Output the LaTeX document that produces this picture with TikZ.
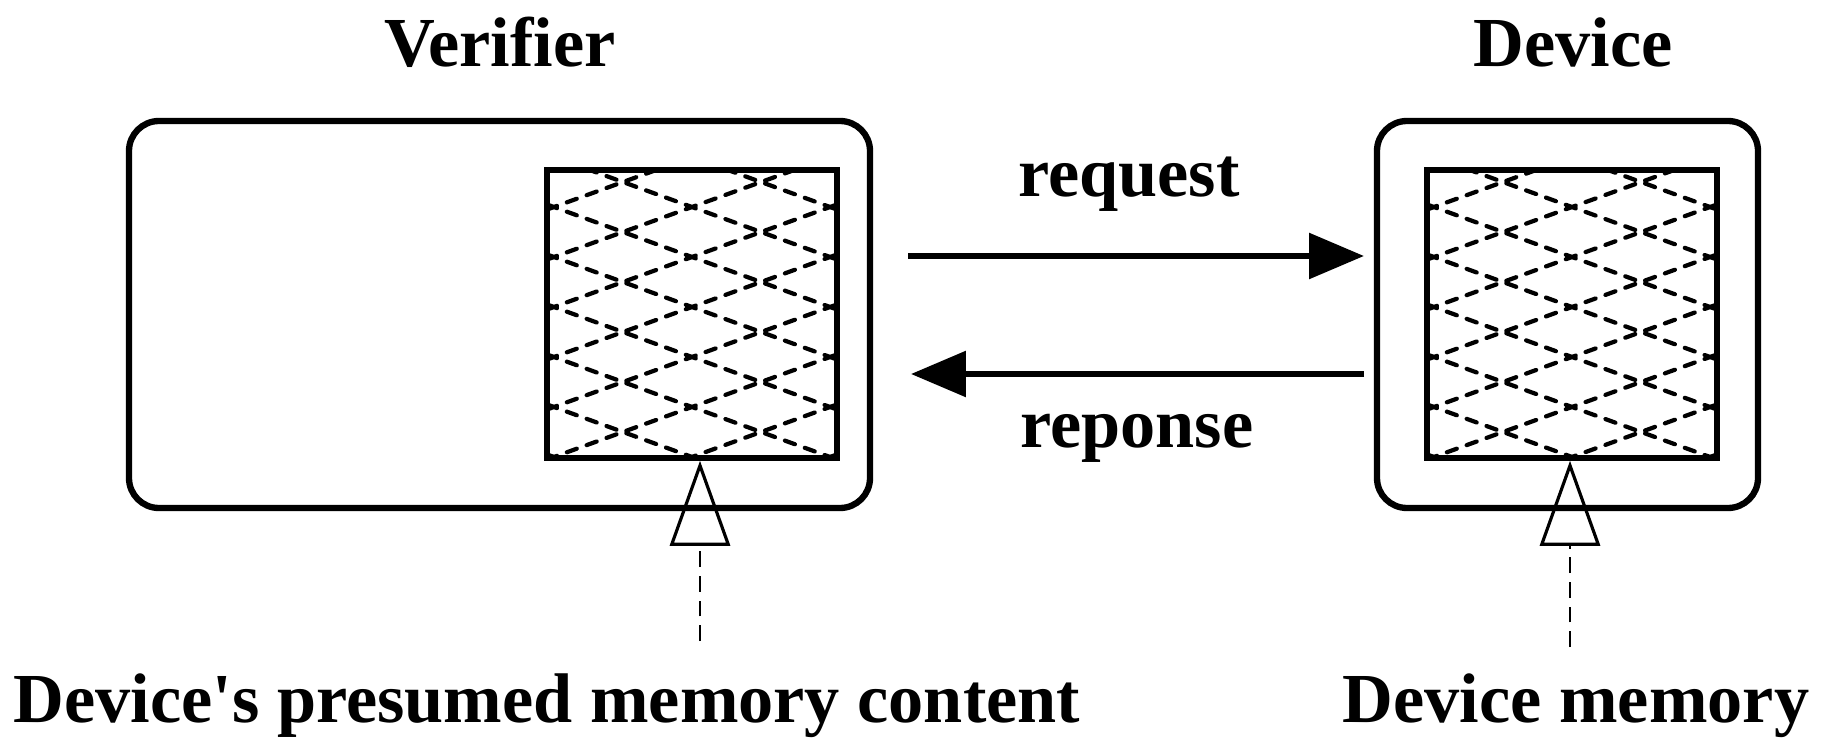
\documentclass[tikz,border=0pt]{standalone}
\usepackage{fontspec}
\setmainfont{Liberation Serif}
\usetikzlibrary{arrows.meta,positioning}
\tikzstyle{box}=[draw, line width=3.6pt, rounded corners=0.6cm]
\tikzstyle{hatch}=[line width=2.4pt, line cap=round, dash pattern=on 6pt off 6pt]
\tikzstyle{mem}=[draw, line width=3.2pt, minimum width=5.8cm, minimum height=5.76cm,
    path picture={
      \foreach \k in {-3,...,8}{
        \draw[hatch] ([yshift=-\k cm-0.69cm]path picture bounding box.north west)
          -- +(5.8cm,-2.1cm);
        \draw[hatch] ([yshift=-\k cm-0.79cm]path picture bounding box.north west)
          -- +(5.8cm,2.1cm);
      }}]
\tikzstyle{lbl}=[font=\bfseries\fontsize{40}{42}\selectfont]
\tikzstyle{hollow}=[-{Triangle[open, length=1.7cm, width=1.2cm, line width=1.8pt]},
    line width=1.4pt, dash pattern=on 9pt off 5pt]

\begin{document}
\begin{tikzpicture}[x=0.02cm, y=-0.02cm]
	\useasboundingbox (0,0) rectangle (1843,753);

	% verifier side
	\draw[box] (129,121) rectangle (870,508);
	\node (vmem) [mem] at (692,314) {};
	\node (vtitle) [lbl] at (500,42) {Verifier};

	% device side
	\draw[box] (1377,121) rectangle (1758,508);
	\node (dmem) [mem] at (1572,314) {};
	\node (dtitle) [lbl] at (1573,42) {Device};

	% messages
	\coordinate (rq1) at (908,256);
	\coordinate (rq2) at (1364,256);
	\coordinate (rp1) at (1364,374);
	\coordinate (rp2) at (911,374);
	\draw[-{Triangle[length=1.1cm, width=0.9cm]}, line width=3.4pt] (rq1) -- (rq2);
	\draw[-{Triangle[length=1.1cm, width=0.9cm]}, line width=3.4pt] (rp1) -- (rp2);
	\node (req) [lbl] at (1129,184) {request};
	\node (rep) [lbl] at (1137,438) {reponse};

	% memory pointers
	\node (vtxt) [lbl] at (547,706) {Device\textquotesingle s presumed memory content};
	\node (dtxt) [lbl] at (1576,706) {Device memory};
	\coordinate (vp) at (700,641);
	\coordinate (dp) at (1570,647);
	\draw[hollow] (vp) -- (vp |- vmem.south);
	\draw[hollow] (dp) -- (dp |- dmem.south);
\end{tikzpicture}
\end{document}
